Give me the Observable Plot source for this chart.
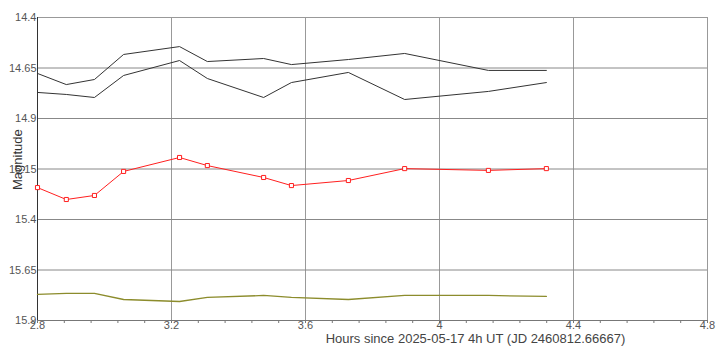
<!DOCTYPE html>
<html><head><meta charset="utf-8">
<script src="https://cdn.jsdelivr.net/npm/d3@7"></script>
<script src="https://cdn.jsdelivr.net/npm/@observablehq/plot@0.6"></script>
<style>
html,body{margin:0;padding:0;background:#fff;}
svg{font-family:"Liberation Sans",Arial,sans-serif;}
</style>
</head><body>
<div id="chart"></div>
<script>
const hours = [2.800, 2.886, 2.970, 3.057, 3.224, 3.307, 3.475, 3.558, 3.728, 3.896, 4.146, 4.319];
const compA = [14.677, 14.732, 14.707, 14.583, 14.544, 14.618, 14.603, 14.633, 14.608, 14.578, 14.662, 14.662];
const compB = [14.771, 14.781, 14.796, 14.687, 14.613, 14.702, 14.796, 14.722, 14.672, 14.806, 14.766, 14.722];
const target = [15.242, 15.301, 15.281, 15.162, 15.093, 15.133, 15.192, 15.232, 15.207, 15.148, 15.157, 15.148];
const check = [15.771, 15.766, 15.766, 15.796, 15.806, 15.786, 15.776, 15.786, 15.796, 15.776, 15.776, 15.781];
const xTicks = [2.8, 3.2, 3.6, 4.0, 4.4, 4.8];
const xMinor = d3.range(0, 26).map(i => +(2.8 + i * 0.08).toFixed(2));
const yTicks = [14.4, 14.65, 14.9, 15.15, 15.4, 15.65, 15.9];
const xLabel = "Hours since 2025-05-17 4h UT (JD 2460812.66667)";
const yLabel = "Magnitude";

const mk = (vals) => hours.map((h, i) => ({h, m: vals[i]}));

const chart = Plot.plot({
  width: 727, height: 359,
  marginLeft: 37, marginRight: 20, marginTop: 17, marginBottom: 39,
  style: {fontSize: "11px", color: "#555", fontFamily: "'Liberation Sans', Arial, sans-serif"},
  x: {domain: [2.8, 4.8]},
  y: {domain: [14.4, 15.9], reverse: true},
  marks: [
    Plot.gridX(xTicks, {stroke: "#999", strokeOpacity: 1}),
    Plot.gridY(yTicks, {stroke: "#888", strokeOpacity: 1}),
    Plot.frame({stroke: "#999"}),
    Plot.axisY(yTicks, {tickSize: 0, tickPadding: 1, label: null, tickFormat: d => String(d), fill: "#555"}),
    Plot.ruleX(xMinor, {y1: 15.9, y2: 15.9, insetBottom: -3, stroke: "#777"}),
    Plot.axisX(xTicks, {tickSize: 0, tickPadding: 1, label: null, tickFormat: d => String(d), fill: "#555"}),
    Plot.ruleX([2.8], {stroke: "#333"}),
    Plot.ruleY([15.9], {stroke: "#777"}),
    Plot.line(mk(compA), {x: "h", y: "m", stroke: "#333", strokeWidth: 1}),
    Plot.line(mk(compB), {x: "h", y: "m", stroke: "#333", strokeWidth: 1}),
    Plot.line(mk(check), {x: "h", y: "m", stroke: "#8c8c2c", strokeWidth: 1.3}),
    Plot.line(mk(target), {x: "h", y: "m", stroke: "#ff2020", strokeWidth: 1}),
    Plot.dot(mk(target), {x: "h", y: "m", symbol: "square", r: 2.3, stroke: "#ff2020", fill: "#fff", strokeWidth: 1}),
    Plot.text([yLabel], {frameAnchor: "left", rotate: -90, dx: -20, dy: 21, fontSize: 13, fill: "#333"}),
    Plot.text([xLabel], {frameAnchor: "bottom", dx: 103, dy: 22, fontSize: 13, fill: "#444"})
  ]
});
document.getElementById("chart").appendChild(chart);
</script>
</body></html>
